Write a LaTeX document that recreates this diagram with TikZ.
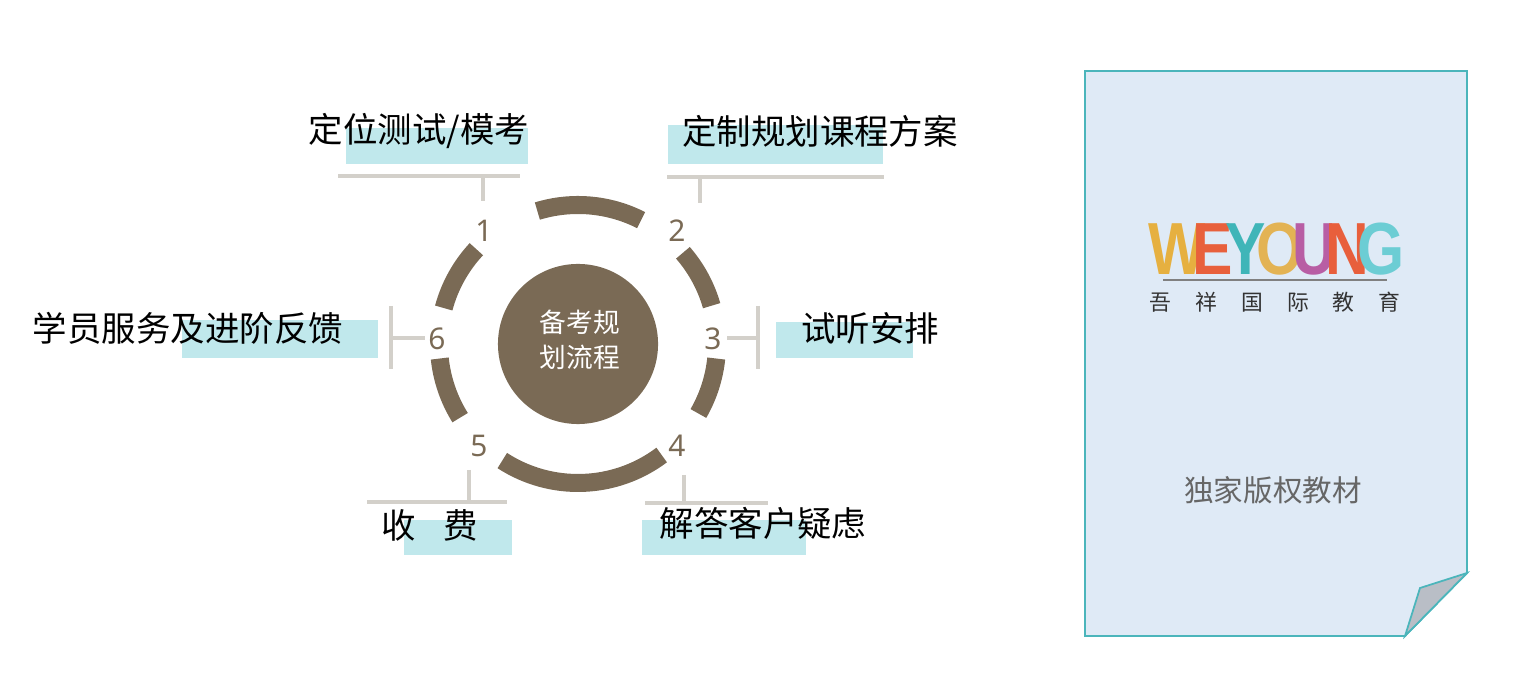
\documentclass[tikz,border=0pt]{standalone}
\usepackage{fontspec}
\setmainfont{Noto Sans}
\newfontfamily\cjk{Noto Sans CJK SC}
\newfontfamily\logofont{Liberation Sans Bold}
\usetikzlibrary{positioning, calc}
\definecolor{ringbrown}{HTML}{7A6A55}
\definecolor{bargray}{HTML}{D3D0CA}
\definecolor{hilite}{HTML}{C0E8EC}
\definecolor{paperfill}{HTML}{DFEAF6}
\definecolor{paperline}{HTML}{4BB5BB}
\definecolor{foldgray}{HTML}{B9BEC6}
\tikzset{
    ring/.style={line width=0.18cm, ringbrown},
    bar/.style={line width=0.035cm, bargray},
    steplabel/.style={font=\cjk\fontsize{9.8}{11}\selectfont, inner sep=0pt},
    stepnum/.style={font=\fontsize{8.5}{9}\selectfont, text=ringbrown, inner sep=0pt},
    logoletter/.style={font=\logofont\fontsize{21}{21}\selectfont, inner sep=0pt, xscale=0.82}
}
\begin{document}
\begin{tikzpicture}[x=0.01cm, y=-0.01cm]
    \useasboundingbox (0,0) rectangle (1534,680);

    % RING AND CENTRE
    \coordinate (c) at (578,344);
    \foreach \from/\to in {107/63, 41/16, -6/-30, -53/-123, -148/-174, 165/137}
        \draw[ring] ($(c)+(-\from:139)$) arc[start angle=-\from, end angle=-\to, radius=139];
    \node[circle, fill=ringbrown, minimum size=1.6cm, inner sep=0pt] (hub) at (c) {};
    \node[font=\cjk\fontsize{7.6}{10}\selectfont, text=white, align=center] at (580,340) {备考规\\划流程};

    % STEP NUMBERS
    \node[stepnum] (n1) at (484,231) {1};
    \node[stepnum] (n2) at (677,231) {2};
    \node[stepnum] (n3) at (713,339) {3};
    \node[stepnum] (n4) at (677,446) {4};
    \node[stepnum] (n5) at (479,446) {5};
    \node[stepnum] (n6) at (437,339) {6};

    % HIGHLIGHT MARKS
    \fill[hilite] (346,128) rectangle (528,164);
    \fill[hilite] (668,125) rectangle (883,164);
    \fill[hilite] (776,322) rectangle (913,358);
    \fill[hilite] (182,320) rectangle (378,358);
    \fill[hilite] (404,520) rectangle (512,555);
    \fill[hilite] (642,520) rectangle (806,555);

    % STEP LABELS
    \node[steplabel] (s1) at (419,131) {定位测试/模考};
    \node[steplabel] (s2) at (820,131) {定制规划课程方案};
    \node[steplabel] (s3) at (870,328) {试听安排};
    \node[steplabel] (s4) at (763,523) {解答客户疑虑};
    \node[steplabel] (s5) at (430,525) {收\hspace{0.8em}费};
    \node[steplabel] (s6) at (188,328) {学员服务及进阶反馈};

    % BARS
    \draw[bar] (338,176) -- (520,176);
    \draw[bar] (483,176) -- (483,201);
    \draw[bar] (667,177) -- (884,177);
    \draw[bar] (700,177) -- (700,203);
    \draw[bar] (758,306) -- (758,369);
    \draw[bar] (727,338) -- (758,338);
    \draw[bar] (391,306) -- (391,369);
    \draw[bar] (391,338) -- (425,338);
    \draw[bar] (367,502) -- (507,502);
    \draw[bar] (469,470) -- (469,502);
    \draw[bar] (645,503) -- (768,503);
    \draw[bar] (684,475) -- (684,503);

    % PAPER
    \draw[paperline, fill=paperfill, line width=0.5]
        (1085,71) -- (1467,71) -- (1467,573) -- (1405,636) -- (1085,636) -- cycle;
    \draw[paperline, fill=foldgray, line width=0.5] (1405,636) -- (1467,573) -- (1420,588) -- cycle;

    % LOGO
    \foreach \ch/\col/\xx in {W/E6B040/1177, E/E8603C/1213, Y/3FB5B8/1246, O/E3B354/1280, U/B85EA4/1314, N/E85F3C/1347, G/6CCDD4/1381} {
        \definecolor{lc}{HTML}{\col}
        \node[logoletter, text=lc] at (\xx,249) {\ch};
    }
    \draw[gray, line width=0.4] (1163,280) -- (1387,280);
    \node[font=\cjk\fontsize{6.2}{7}\selectfont, text=black!80] (brand) at (1275,302) {吾\hspace{1.1em}祥\hspace{1.1em}国\hspace{1.1em}际\hspace{1.1em}教\hspace{1.1em}育};
    \node[font=\cjk\fontsize{8.4}{10}\selectfont, text=black!60] (note) at (1273,490) {独家版权教材};
\end{tikzpicture}
\end{document}
